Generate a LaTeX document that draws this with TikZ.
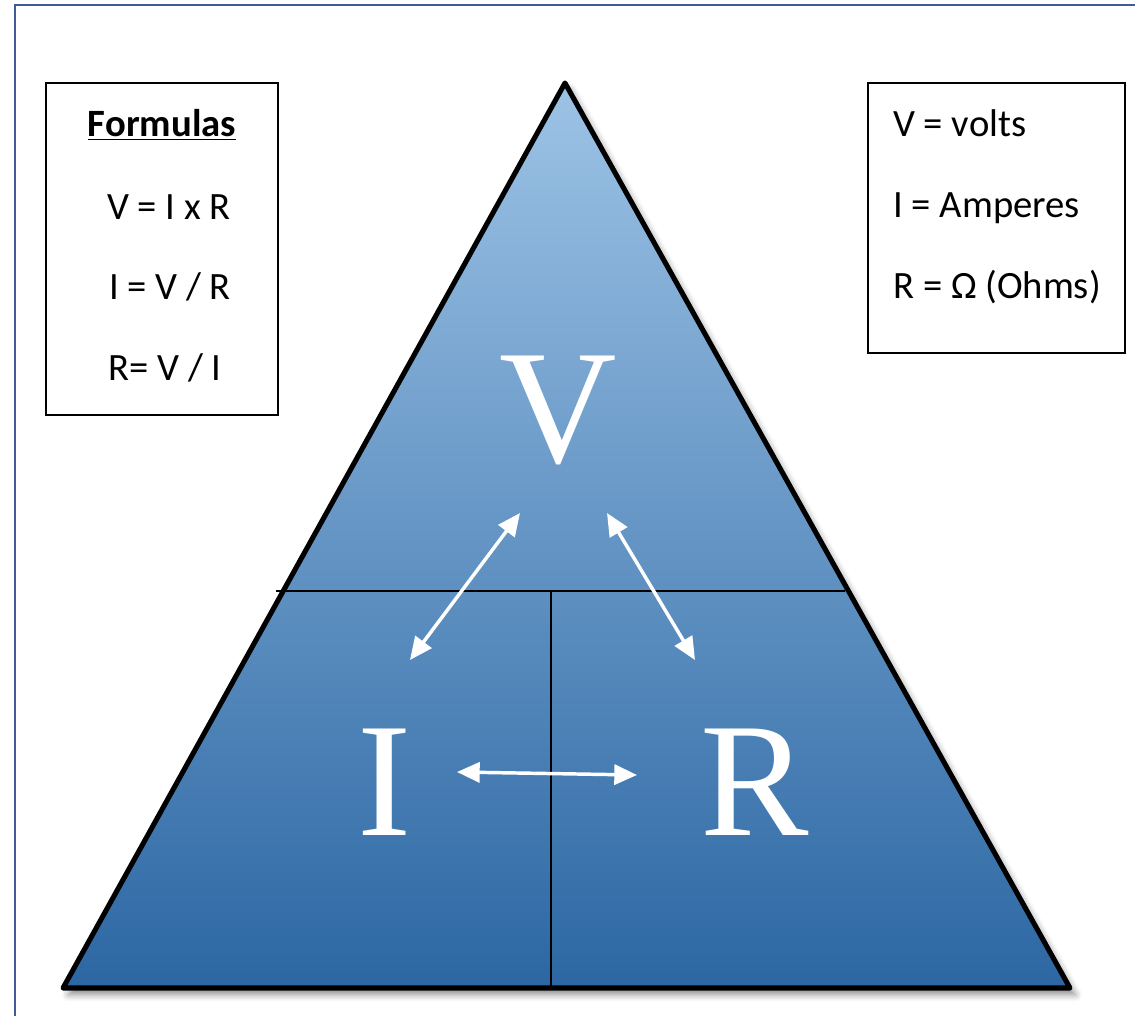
\documentclass[tikz,border=0pt]{standalone}
\usepackage{fontspec}
\setmainfont{Carlito}
\newfontfamily\bigserif{Liberation Serif}
\usetikzlibrary{arrows.meta,shadows.blur}
\definecolor{framecol}{HTML}{3F5B98}
\definecolor{triTop}{HTML}{9DC3E6}
\definecolor{triBot}{HTML}{2C67A3}
\tikzset{
  infobox/.style={draw=black, line width=1.6pt, fill=white},
  infotext/.style={font=\fontsize{29}{35}\selectfont, inner sep=0pt, anchor=base},
  bigletter/.style={text=white, font=\bigserif\fontsize{122}{130}\selectfont, inner sep=0pt},
  twoway/.style={white, line width=2.6pt, {Triangle[length=17pt,width=15pt]}-{Triangle[length=17pt,width=15pt]}},
  divider/.style={black, line width=1.1pt}
}
\begin{document}
\begin{tikzpicture}[x=0.75pt,y=-0.75pt]
\useasboundingbox (0,0) rectangle (1135,1016);
% outer frame
\draw[framecol, line width=1.6pt] (15,1020) -- (15,5) -- (1140,5);
% triangle
\coordinate (apex) at (565,83);
\coordinate (bl) at (63,988);
\coordinate (br) at (1070,988);
\path[blur shadow={shadow xshift=4pt, shadow yshift=-5pt, shadow blur radius=5pt, shadow opacity=45}] (apex) -- (br) -- (bl) -- cycle;
\shade[top color=triTop, bottom color=triBot] (apex) -- (br) -- (bl) -- cycle;
% dividers
\coordinate (hl) at (276,591);
\coordinate (hr) at (845,591);
\coordinate (vt) at (551,591);
\coordinate (vb) at (551,988);
\draw[divider] (hl) -- (hr);
\draw[divider] (vt) -- (vb);
\draw[black, line width=3.8pt, line join=round] (apex) -- (br) -- (bl) -- cycle;
% letters
\node[bigletter] (V) at (558,410) {V};
\node[bigletter] (I) at (385,782) {I};
\node[bigletter] (R) at (755,782) {R};
% arrows
\coordinate (vi1) at (520,513);
\coordinate (vi2) at (410,660);
\coordinate (vr1) at (607,513);
\coordinate (vr2) at (695,660);
\coordinate (ir1) at (457,772);
\coordinate (ir2) at (637,775);
\draw[twoway] (vi1) -- (vi2);
\draw[twoway] (vr1) -- (vr2);
\draw[twoway] (ir1) -- (ir2);
% left box
\node[infobox, minimum width=232*0.75pt, minimum height=332*0.75pt] (lbox) at (162,249) {};
\node[infotext, font=\fontsize{29}{35}\selectfont\bfseries] (ftitle) at (162,137) {\underline{Formulas}};
\node[infotext] (f1) at (169,220) {V = I x R};
\node[infotext] (f2) at (170,300) {I = V / R};
\node[infotext] (f3) at (165,380) {R= V / I};
% right box
\node[infobox, minimum width=257*0.75pt, minimum height=270*0.75pt] (rbox) at (996.5,218) {};
\node[infotext, anchor=base west] (d1) at (893,137) {V = volts};
\node[infotext, anchor=base west] (d2) at (893,218) {I = Amperes};
\node[infotext, anchor=base west] (d3) at (893,299) {R = Ω (Ohms)};
\end{tikzpicture}
\end{document}
